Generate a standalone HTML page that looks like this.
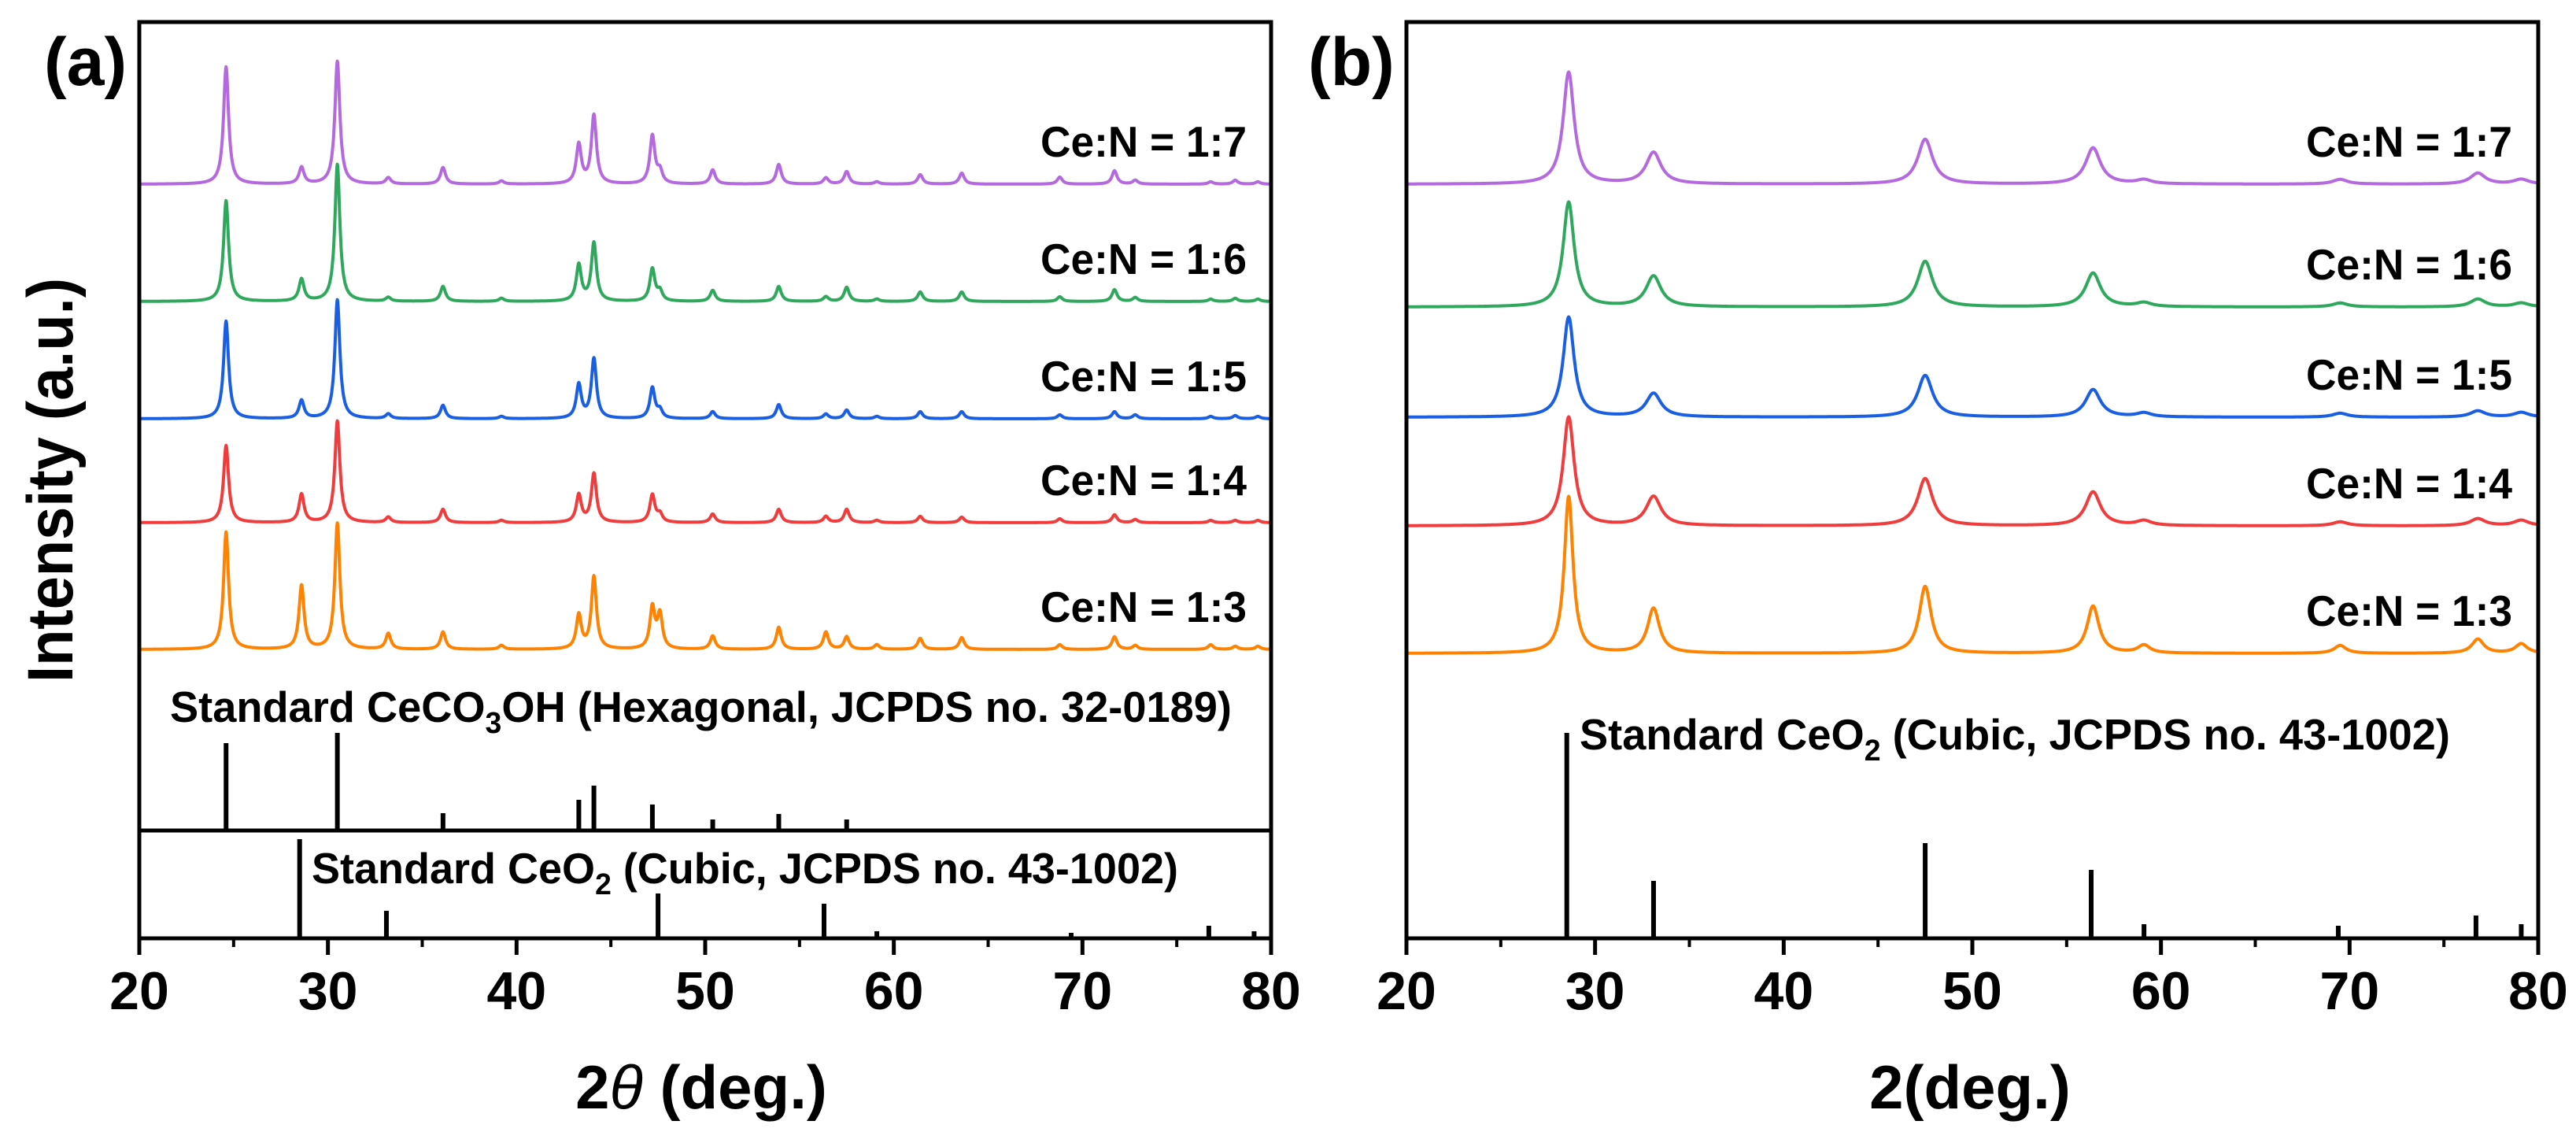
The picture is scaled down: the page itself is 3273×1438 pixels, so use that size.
<!DOCTYPE html>
<html><head><meta charset="utf-8"><style>
html,body{margin:0;padding:0;background:#fff;}
svg{display:block;}
text{font-family:"Liberation Sans",Arial,sans-serif;font-weight:bold;fill:#000;}
</style></head><body>
<svg id="fig" width="3273" height="1438" viewBox="0 0 3273 1438" xmlns="http://www.w3.org/2000/svg">
<g id="root"></g>
</svg>
<script>
// ---------- data ----------
const seriesNames = ["Ce:N = 1:7","Ce:N = 1:6","Ce:N = 1:5","Ce:N = 1:4","Ce:N = 1:3"];
const seriesColors = ["#b46ade","#2fa85e","#1a5fe3","#f03c3c","#ff8200"];
// panel (a) peak positions (2theta) and heights (arbitrary units, per series)
const peaksA = [24.6,28.6,30.5,33.2,36.1,39.2,43.3,44.1,47.2,47.6,50.4,53.9,56.4,57.5,59.1,61.4,63.6,68.8,71.7,72.8,76.8,78.1,79.3];
const hA7 = [149,21,156,8,21,4,50,87,61,15,18,25,8,16,3,12,14,9,17,5,3,5,3];
const hA6 = [128,28,174,5,19,4,46,74,41,12,14,19,6,18,3,12,12,6,15,5,3,4,3];
const hA5 = [124,23,151,6,17,3,43,76,39,10,9,18,6,11,3,9,9,5,9,5,3,4,3];
const hA4 = [98,36,129,7,17,3,35,62,35,10,11,17,8,17,3,8,7,5,10,4,3,3,3];
const hA3 = [149,81,160,20,22,5,43,92,52,43,17,28,22,16,6,14,15,6,16,5,6,4,4];
const offsetA = [0,149,298,430,591]; // vertical stacking offsets
// panel (b)
const peaksB = [28.6,33.1,47.5,56.4,59.1,69.5,76.8,79.1];
const hB7 = [142,40,57,46,5,6,14,6];
const hB6 = [133,39,58,43,5,5,10,5];
const hB5 = [127,30,53,35,5,5,8,6];
const hB4 = [138,37,60,43,6,5,9,7];
const hB3 = [199,57,85,60,10,10,18,12];
const offsetB = [0,156,296,434,596];
// reference sticks
const hexPos = [24.6,30.5,36.1,43.3,44.1,47.2,50.4,53.9,57.5];
const hexInt = [111,124,22,39,57,33,14,21,14];
const cubPos = [28.5,33.1,47.5,56.3,59.1,69.4,76.7,79.1];
const cubIntA = [126,35,57,44,9,7,16,9];
const cubIntB = [259,71,119,85,16,14,27,16];
const xTicks = [20,30,40,50,60,70,80];
const xMinor = [25,35,45,55,65,75];

// ---------- helpers ----------
const NS="http://www.w3.org/2000/svg";
const root=document.getElementById('root');
function mk(tag,attrs,parent){const e=document.createElementNS(NS,tag);for(const k in attrs)e.setAttribute(k,attrs[k]);(parent||root).appendChild(e);return e;}
function xScale(x0,x1){return v=>x0+(v-20)/60*(x1-x0);}

function panel(cfg){
  const g=mk('g',{});
  
  
  const X=xScale(cfg.left,cfg.right);
  // traces
  cfg.series.forEach((hs,i)=>{
    const base=cfg.base0+cfg.offsets[i];
    let d='';
    for(let t=20;t<=80.0001;t+=0.02){
      let y=0;
      cfg.peaks.forEach((p,k)=>{const w=cfg.width(p,i)/2;const u=(t-p)/w;y+=hs[k]/(1+u*u);});
      d+=(d?'L':'M')+X(t).toFixed(1)+' '+(base-y).toFixed(1);
    }
    const path=mk('path',{d:d,fill:'none',stroke:seriesColors[i],'stroke-width':4,'stroke-linejoin':'round'},g);
    
    
    const lab=mk('text',{x:cfg.labelX,y:base-cfg.labelDy,'font-size':55,textLength:262,lengthAdjust:'spacingAndGlyphs'},g);
    lab.textContent=seriesNames[i];
    
    
  });
  // sticks
  cfg.sticks.forEach(s=>{
    s.pos.forEach((p,k)=>{
      const l=mk('line',{x1:X(p),x2:X(p),y1:s.base,y2:s.base-s.h[k],stroke:'#000','stroke-width':6},g);
      
      
    });
  });
  // frame
  const fr=mk('rect',{x:cfg.left,y:28,width:cfg.right-cfg.left,height:1192-28,fill:'none',stroke:'#000','stroke-width':5},g);
  
  
  xTicks.forEach(v=>{
    const t=mk('line',{x1:X(v),x2:X(v),y1:1192,y2:1213,stroke:'#000','stroke-width':5},g);
    
    
    const tl=mk('text',{x:X(v),y:1282,'font-size':68,'text-anchor':'middle'},g);
    tl.textContent=v;
    
    
  });
  xMinor.forEach(v=>{
    const t=mk('line',{x1:X(v),x2:X(v),y1:1192,y2:1203,stroke:'#000','stroke-width':4},g);
    
    
  });
  return {g,X};
}

const A=panel({name:'panel-a',tag:'a',left:177,right:1615,base0:234,offsets:offsetA,
  series:[hA7,hA6,hA5,hA4,hA3],peaks:peaksA,width:(p,i)=>0.32,labelX:1322,labelDy:35,
  sticks:[{pos:hexPos,h:hexInt,base:1055},{pos:cubPos,h:cubIntA,base:1192}]});
const B=panel({name:'panel-b',tag:'b',left:1787,right:3225,base0:234,offsets:offsetB,
  series:[hB7,hB6,hB5,hB4,hB3],peaks:peaksB,width:(p,i)=>(p<30?0.7:0.95)*(i==4?0.8:1),labelX:2930,labelDy:35,
  sticks:[{pos:cubPos,h:cubIntB,base:1190}]});

// separator in panel a
const sep=mk('line',{x1:177,x2:1615,y1:1055,y2:1055,stroke:'#000','stroke-width':5});


</script>
<svg style="position:absolute;left:0;top:0" width="3273" height="1438" viewBox="0 0 3273 1438" xmlns="http://www.w3.org/2000/svg">
<text x="56" y="108" font-size="86">(a)</text>
<text x="1662" y="108" font-size="86">(b)</text>
<text x="0" y="0" font-size="82" text-anchor="middle" transform="translate(92,610) rotate(-90)" textLength="514" lengthAdjust="spacingAndGlyphs">Intensity (a.u.)</text>
<text x="891" y="1408" font-size="78" text-anchor="middle">2<tspan font-style="italic" font-weight="normal">θ</tspan> (deg.)</text>
<text x="2503" y="1408" font-size="78" text-anchor="middle">2(deg.)</text>
<text x="216" y="917" font-size="55" textLength="1349" lengthAdjust="spacingAndGlyphs">Standard CeCO<tspan font-size="38" dy="14">3</tspan><tspan dy="-14">OH (Hexagonal, JCPDS no. 32-0189)</tspan></text>
<text x="396" y="1122" font-size="55" textLength="1101" lengthAdjust="spacingAndGlyphs">Standard CeO<tspan font-size="38" dy="14">2</tspan><tspan dy="-14"> (Cubic, JCPDS no. 43-1002)</tspan></text>
<text x="2007" y="952" font-size="55" textLength="1106" lengthAdjust="spacingAndGlyphs">Standard CeO<tspan font-size="38" dy="14">2</tspan><tspan dy="-14"> (Cubic, JCPDS no. 43-1002)</tspan></text>
</svg>
</body></html>
